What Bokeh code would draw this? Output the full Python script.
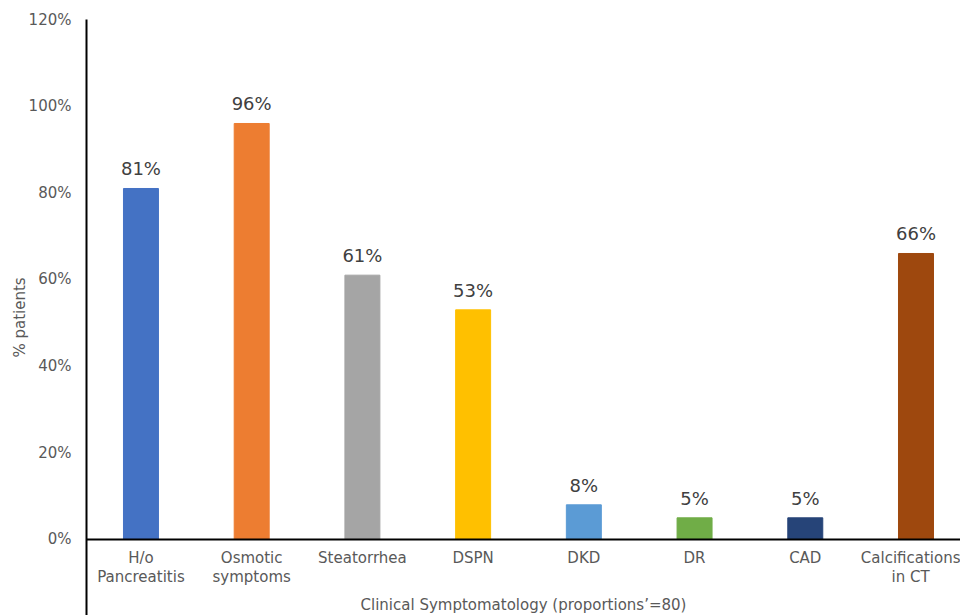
from bokeh.plotting import figure
from bokeh.models import Range1d, FixedTicker, ColumnDataSource, LabelSet
from bokeh.core.properties import value
from bokeh.embed import file_html
from bokeh.resources import INLINE

categories = ["H/o\nPancreatitis", "Osmotic\nsymptoms", "Steatorrhea", "DSPN", "DKD", "DR", "CAD", "Calcifications\nin CT"]
values = [0.81, 0.96, 0.61, 0.53, 0.08, 0.05, 0.05, 0.66]
colors = ["#4472C4", "#ED7D31", "#A5A5A5", "#FFC000", "#5B9BD5", "#70AD47", "#264478", "#9E480E"]
y_ticks = [0, 0.2, 0.4, 0.6, 0.8, 1.0, 1.2]
y_tick_labels = ["0%", "20%", "40%", "60%", "80%", "100%", "120%"]

xs = list(range(len(categories)))
src = ColumnDataSource(dict(x=xs, top=values, color=colors,
                            label=[f"{round(v*100)}%" for v in values]))

p = figure(width=960, height=615, output_backend="svg", toolbar_location=None,
           x_range=Range1d(-0.492, 7.402), y_range=Range1d(-0.1754, 1.2),
           min_border_left=86, min_border_right=0, min_border_top=19, min_border_bottom=0)
p.outline_line_color = None
p.xgrid.visible = False
p.ygrid.visible = False
p.background_fill_color = "white"

p.vbar(x="x", top="top", bottom=0, width=0.316, color="color", source=src)

labels = LabelSet(x="x", y="top", text="label", source=src, text_align="center",
                  text_baseline="alphabetic", y_offset=13, text_font=value("DejaVu Sans"),
                  text_font_size=value("18px"), text_color=value("#404040"))
p.add_layout(labels)

ya = p.yaxis[0]
ya.ticker = FixedTicker(ticks=y_ticks)
ya.major_label_overrides = {t: l for t, l in zip(y_ticks, y_tick_labels)}
ya.axis_label = "% patients"
ya.axis_label_text_font = "DejaVu Sans"
ya.axis_label_text_font_style = "normal"
ya.axis_label_text_font_size = "15px"
ya.axis_label_text_color = "#595959"
ya.axis_label_standoff = -3
ya.major_label_text_font = "DejaVu Sans"
ya.major_label_text_font_size = "15px"
ya.major_label_text_color = "#595959"
ya.major_label_standoff = 9
ya.major_tick_line_color = None
ya.minor_tick_line_color = None
ya.axis_line_color = "black"
ya.axis_line_width = 2

xa = p.xaxis[0]
xa.fixed_location = 0
xa.ticker = FixedTicker(ticks=xs)
xa.major_label_overrides = {i: c for i, c in enumerate(categories)}
xa.axis_label = "Clinical Symptomatology (proportions\u2019=80)"
xa.axis_label_text_font = "DejaVu Sans"
xa.axis_label_text_font_style = "normal"
xa.axis_label_text_font_size = "15px"
xa.axis_label_text_color = "#595959"
xa.axis_label_standoff = 7
xa.major_label_text_font = "DejaVu Sans"
xa.major_label_text_font_size = "15px"
xa.major_label_text_line_height = 1.05
xa.major_label_text_color = "#595959"
xa.major_label_standoff = 4
xa.major_tick_line_color = None
xa.minor_tick_line_color = None
xa.axis_line_color = "black"
xa.axis_line_width = 2

open("out.html", "w").write(file_html(p, INLINE))
